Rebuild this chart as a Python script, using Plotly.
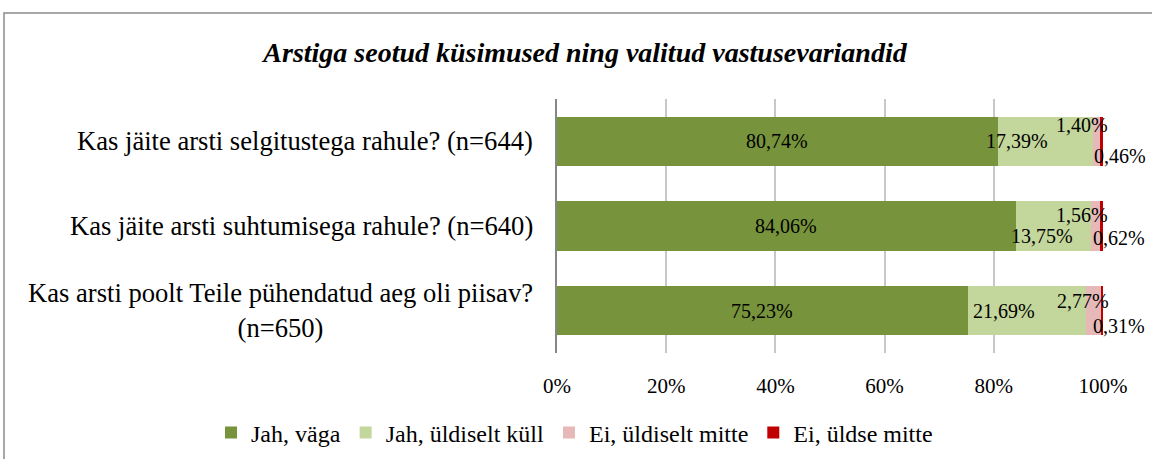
import plotly.graph_objects as go

# ---- data ----
categories = [
    "Kas jäite arsti selgitustega rahule? (n=644)",
    "Kas jäite arsti suhtumisega rahule? (n=640)",
    "Kas arsti poolt Teile pühendatud aeg oli piisav?<br>(n=650)",
]
series_names = ["Jah, väga", "Jah, üldiselt küll", "Ei, üldiselt mitte", "Ei, üldse mitte"]
jah_vaga = [80.74, 84.06, 75.23]
jah_uldiselt = [17.39, 13.75, 21.69]
ei_uldiselt = [1.40, 1.56, 2.77]
ei_uldse = [0.46, 0.62, 0.31]
x_ticks = [0, 20, 40, 60, 80, 100]
x_tick_labels = ["0%", "20%", "40%", "60%", "80%", "100%"]

# ---- style ----
colors = ["#77933C", "#C3D69B", "#E6B9B8", "#C00000"]
FONT = "Liberation Serif, Times New Roman, serif"
# pixel nudges for data labels (per series, per category)
label_shifts = [
    [(0, 0), (0, 0), (0, 0)],
    [(-28, 0), (-12, -10), (-23, 0)],
    [(-15, 16), (-13, 11), (-11, 10)],
    [(18, -15), (18, -12), (17, -15)],
]

series = [jah_vaga, jah_uldiselt, ei_uldiselt, ei_uldse]

PL, PR, PT, PB = 557, 49, 99, 106
W, H = 1152, 459
PW, PH = W - PL - PR, H - PT - PB

fig = go.Figure()
for name, vals, col in zip(series_names, series, colors):
    fig.add_trace(go.Bar(
        y=categories, x=vals, name=name, orientation="h",
        marker=dict(color=col, line=dict(width=0)),
        hoverinfo="skip",
    ))

annotations = []
cum = [0.0] * len(categories)
for si, vals in enumerate(series):
    for ci, v in enumerate(vals):
        mid = cum[ci] + v / 2
        dx, dy = label_shifts[si][ci]
        annotations.append(dict(
            x=mid, y=categories[ci], xref="x", yref="y",
            text=f"{v:.2f}%".replace(".", ","), showarrow=False,
            xshift=dx, yshift=dy,
            font=dict(family=FONT, size=20, color="#000000"),
        ))
        cum[ci] += v

# category labels as annotations (so the wrapped line is centred)
for c in categories:
    annotations.append(dict(
        x=0, y=c, xref="paper", yref="y", xanchor="right", yanchor="middle",
        xshift=-22, text=c, align="center", showarrow=False,
        font=dict(family=FONT, size=26.6, color="#000000"),
    ))

fig.update_layout(
    width=W, height=H,
    margin=dict(l=PL, r=PR, t=PT, b=PB, autoexpand=False),
    paper_bgcolor="white", plot_bgcolor="white",
    barmode="stack", bargap=0.42,
    title=dict(
        text="Arstiga seotud küsimused ning valitud vastusevariandid",
        x=585 / W, xref="container", xanchor="center",
        y=1 - 52 / H, yref="container", yanchor="middle",
        font=dict(family=FONT, size=28, color="#000000", weight="bold", style="italic"),
    ),
    xaxis=dict(
        range=[0, 100], tickvals=x_ticks, ticktext=x_tick_labels,
        showgrid=True, gridcolor="#C8C8C8", gridwidth=1.5,
        zeroline=False, showline=False, ticks="",
        ticklabelstandoff=18,
        tickfont=dict(family=FONT, size=21, color="#000000"),
        fixedrange=True,
    ),
    yaxis=dict(
        categoryorder="array", categoryarray=categories[::-1],
        showticklabels=False, showgrid=False, zeroline=False,
        showline=True, linecolor="#868686", linewidth=1.5, ticks="",
        fixedrange=True,
    ),
    legend=dict(
        orientation="h", xref="paper", yref="paper",
        x=(211 - PL) / PW, xanchor="left", y=(PH - (433 - PT)) / PH, yanchor="middle",
        font=dict(family=FONT, size=24, color="#000000"),
        traceorder="normal", itemclick=False, itemdoubleclick=False,
        bgcolor="rgba(0,0,0,0)",
    ),
    annotations=annotations,
    shapes=[dict(
        type="rect", xref="paper", yref="paper",
        x0=(4 - PL) / PW, x1=(1170 - PL) / PW,
        y0=(PH - (480 - PT)) / PH, y1=1 + (PT - 13) / PH,
        line=dict(color="#8C8C8C", width=1.5), fillcolor="rgba(0,0,0,0)",
        layer="below",
    )],
    showlegend=True,
)

fig.write_html("out.html", config={"displayModeBar": False},
               post_script="document.body.style.margin='0';")
